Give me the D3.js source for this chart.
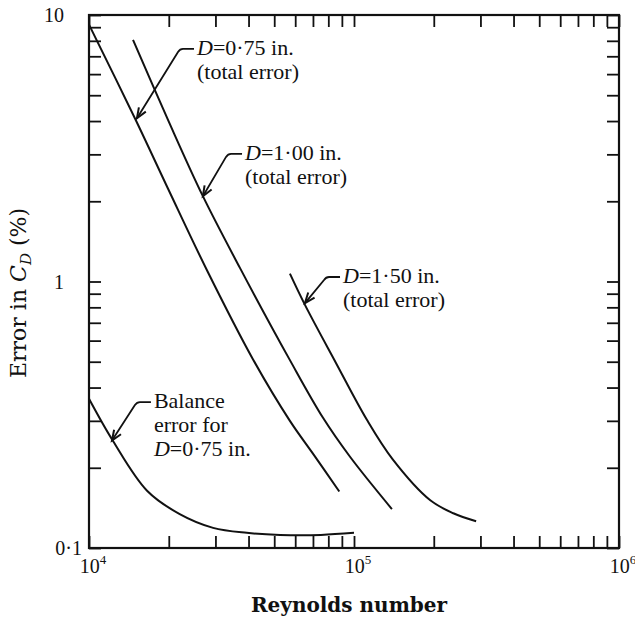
<!DOCTYPE html>
<html>
<head>
<meta charset="utf-8">
<script src="https://cdn.jsdelivr.net/npm/d3@7"></script>
<style>
  body { margin: 0; background: white; }
  text { fill: #111; }
</style>
</head>
<body>
<script>
// values (Reynolds number, error in CD %)
const re075 = [1.0e4, 1.49e4, 2.0e4, 2.79e4, 4.16e4, 5.73e4, 7.0e4, 8.8e4];
const err075 = [9.2, 4.1, 2.2, 1.10, 0.51, 0.30, 0.226, 0.163];

const re100 = [1.466e4, 2.0e4, 2.69e4, 3.72e4, 5.73e4, 7.64e4, 9.66e4, 1.39e5];
const err100 = [8.06, 3.98, 2.09, 1.12, 0.507, 0.308, 0.22, 0.140];

const re150 = [5.73e4, 6.53e4, 8.5e4, 1.12e5, 1.40e5, 1.94e5, 2.37e5, 2.89e5];
const err150 = [1.07, 0.817, 0.50, 0.302, 0.215, 0.151, 0.135, 0.126];

const reBal = [1.0e4, 1.232e4, 1.656e4, 2.2e4, 2.94e4, 3.94e4, 5.26e4, 7.5e4, 1.0e5];
const errBal = [0.363, 0.252, 0.164, 0.134, 0.119, 0.114, 0.112, 0.112, 0.114];

const xLabelValues = [1e4, 1e5, 1e6];
const xLabelExps = ["4", "5", "6"];
const yLabelValues = [0.1, 1, 10];
const yLabelTexts = ["0·1", "1", "10"];

// annotations: arrow tip on curve, label start, text lines
const notes = [
  { tip: [1.517e4, 4.1], at: [2.556e4, 7.08], lines: [["D", "=0·75 in."], ["", "(total error)"]] },
  { tip: [2.69e4, 2.09], at: [3.88e4, 2.86], lines: [["D", "=1·00 in."], ["", "(total error)"]] },
  { tip: [6.53e4, 0.83], at: [9.09e4, 0.987], lines: [["D", "=1·50 in."], ["", "(total error)"]] },
  { tip: [1.221e4, 0.253], at: [1.758e4, 0.335], lines: [["", "Balance"], ["", "error for"], ["D", "=0·75 in."]] }
];

const W = 635, H = 620;
const svg = d3.select("body").append("svg")
  .attr("width", W).attr("height", H)
  .style("font-family", "'Liberation Serif', serif");

const x = d3.scaleLog().domain([1e4, 1e6]).range([89, 619]);
const y = d3.scaleLog().domain([0.1, 10]).range([548, 15]);

const tickLen = 12;
function styleAxis(g) {
  g.select(".domain").remove();
  g.selectAll(".tick line").attr("stroke", "#111").attr("stroke-width", 1.8);
  g.selectAll(".tick text").remove();
}

svg.append("g").attr("transform", `translate(0,${y.range()[0]})`)
  .call(d3.axisBottom(x).tickSize(-tickLen).tickFormat("")).call(styleAxis);
svg.append("g").attr("transform", `translate(0,${y.range()[1]})`)
  .call(d3.axisTop(x).tickSize(-tickLen).tickFormat("")).call(styleAxis);
svg.append("g").attr("transform", `translate(${x.range()[0]},0)`)
  .call(d3.axisLeft(y).tickSize(-tickLen).tickFormat("")).call(styleAxis);
svg.append("g").attr("transform", `translate(${x.range()[1]},0)`)
  .call(d3.axisRight(y).tickSize(-tickLen).tickFormat("")).call(styleAxis);

// frame
svg.append("rect")
  .attr("x", x.range()[0]).attr("y", y.range()[1])
  .attr("width", x.range()[1] - x.range()[0])
  .attr("height", y.range()[0] - y.range()[1])
  .attr("fill", "none").attr("stroke", "#111").attr("stroke-width", 2.2);

// x labels 10^n
const xl = svg.append("g").selectAll("text").data(xLabelValues).join("text")
  .attr("x", d => x(d) + 4).attr("y", 573)
  .attr("text-anchor", "middle").attr("font-size", 20);
xl.append("tspan").text("10");
xl.append("tspan").attr("dy", -9).attr("font-size", 13).text((d, i) => xLabelExps[i]);

// y labels
svg.append("g").selectAll("text").data(yLabelValues).join("text")
  .attr("x", (d, i) => yLabelTexts[i] === "0·1" ? 82 : 64)
  .attr("y", d => y(d) + 7)
  .attr("text-anchor", "end").attr("font-size", 20)
  .text((d, i) => yLabelTexts[i]);

// axis titles
svg.append("text")
  .attr("x", 349).attr("y", 612)
  .attr("text-anchor", "middle")
  .attr("font-family", "'DejaVu Serif', serif").attr("font-weight", "bold")
  .attr("font-size", 20)
  .text("Reynolds number");

const yt = svg.append("text")
  .attr("transform", "translate(26,293) rotate(-90)")
  .attr("text-anchor", "middle")
  .attr("font-family", "'DejaVu Serif', serif")
  .attr("font-size", 22);
yt.append("tspan").text("Error in ");
yt.append("tspan").attr("font-style", "italic").text("C");
yt.append("tspan").attr("font-style", "italic").attr("font-size", 15).attr("dy", 5).text("D");
yt.append("tspan").attr("dy", -5).text(" (%)");

// curves
const line = d3.line()
  .x(d => x(d[0])).y(d => y(d[1]))
  .curve(d3.curveCatmullRom.alpha(0.5));

const series = [
  d3.zip(re075, err075),
  d3.zip(re100, err100),
  d3.zip(re150, err150),
  d3.zip(reBal, errBal)
];
svg.append("g").selectAll("path").data(series).join("path")
  .attr("d", line)
  .attr("fill", "none").attr("stroke", "#111").attr("stroke-width", 2);

// annotations with leader arrows
notes.forEach(n => {
  const tx = x(n.tip[0]), ty = y(n.tip[1]);
  const lx = x(n.at[0]), ly = y(n.at[1]);
  const ex = lx - 17, ey = ly - 6;
  svg.append("path")
    .attr("d", `M${lx - 3},${ey} L${ex + 3},${ey} Q${ex},${ey} ${ex - 2},${ey + 3} L${tx},${ty}`)
    .attr("fill", "none").attr("stroke", "#111").attr("stroke-width", 1.8);
  // arrowhead
  const ang = Math.atan2(ty - ey, tx - ex);
  const len = 11, spread = 0.38;
  const p1 = [tx - len * Math.cos(ang - spread), ty - len * Math.sin(ang - spread)];
  const p2 = [tx - len * Math.cos(ang + spread), ty - len * Math.sin(ang + spread)];
  svg.append("path")
    .attr("d", `M${p1[0]},${p1[1]} L${tx},${ty} L${p2[0]},${p2[1]}`)
    .attr("fill", "none").attr("stroke", "#111").attr("stroke-width", 2);

  n.lines.forEach((ln, i) => {
    const t = svg.append("text")
      .attr("x", lx).attr("y", ly + i * 24)
      .attr("font-size", 22);
    if (ln[0]) t.append("tspan").attr("font-style", "italic").text(ln[0]);
    t.append("tspan").text(ln[1]);
  });
});
</script>
</body>
</html>
